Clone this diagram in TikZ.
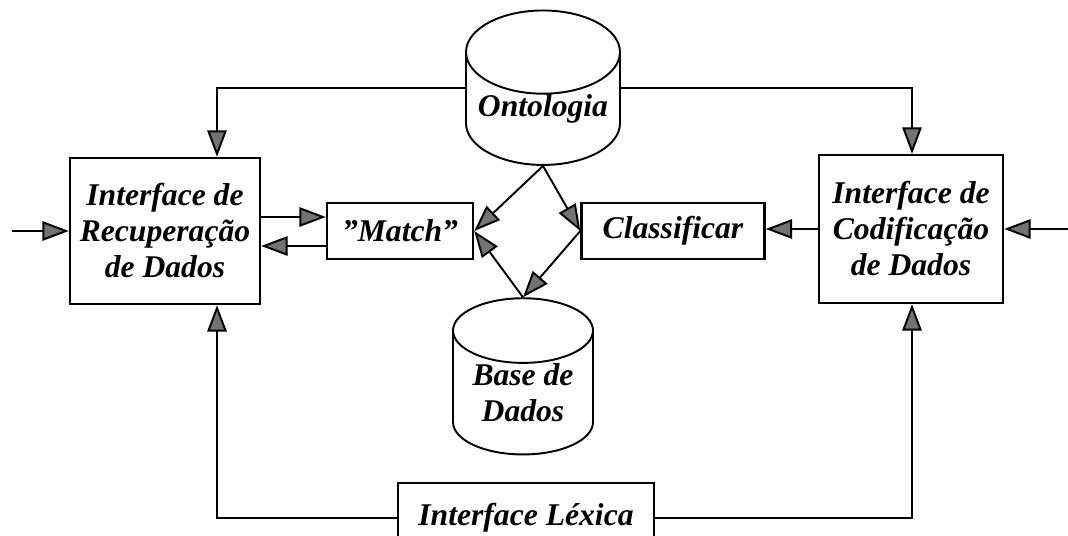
\documentclass[tikz,border=0pt]{standalone}
\usepackage{fontspec}
\setmainfont{Liberation Serif}
\usetikzlibrary{shapes.geometric,arrows.meta}

\begin{document}
\begin{tikzpicture}[x=0.02cm,y=-0.02cm,line width=1.1pt,
  font=\fontsize{18}{20.5}\selectfont\bfseries\itshape,
  box/.style={draw,line width=1.4pt,rectangle,align=center,inner sep=0pt},
  db/.style={draw,cylinder,shape border rotate=90,aspect=0.64,align=center,inner sep=0pt},
  >={Triangle[length=15pt,width=11pt,fill=black!55]}]
\clip (0,0) rectangle (1068,536);
% storage
\node (onto) [db,minimum width=3.08cm,minimum height=3.0cm] at (543,109) {Ontologia};
\node (base) [db,minimum width=2.8cm,minimum height=2.65cm] at (523,393) {Base de\\Dados};
% boxes
\node (rec) [box,minimum width=3.8cm,minimum height=2.92cm] at (165,231)
  {Interface de\\Recupera\c{c}\~ao\\de Dados};
\node (cod) [box,minimum width=3.68cm,minimum height=2.96cm] at (911,229)
  {Interface de\\Codifica\c{c}\~ao\\de Dados};
\node (match) [box,minimum width=2.92cm,minimum height=1.12cm] at (400,231) {"Match"};
\node (cls) [box,minimum width=3.66cm,minimum height=1.12cm] at (673,231) {Classificar};
\node (lex) [box,minimum width=5.12cm,minimum height=1.4cm] at (526,518) {Interface L\'exica};
\coordinate (lx) at (217,88);
\coordinate (rx) at (912,88);
\coordinate (inL) at (12,231);
\coordinate (inR) at (1068,229);
\path ([yshift=0.28cm]match.west) coordinate (m1)
      ([yshift=-0.3cm]match.west) coordinate (m2);
% connectors
\draw[->] (onto.west |- lx) -- (lx) -- (lx |- rec.north);
\draw[->] (onto.east |- rx) -- (rx) -- (rx |- cod.north);
\draw[->] (lex.west) -| (lx |- rec.south);
\draw[->] (lex.east) -| (rx |- cod.south);
\draw[->] (inL) -- (rec.west);
\draw[->] (inR) -- (cod.east);
\draw[->] (m1 -| rec.east) -- (m1);
\draw[->] (m2) -- (m2 -| rec.east);
\draw[->] (cod.west) -- (cod.west -| cls.east);
\draw[->] (onto.south) -- (match.east);
\draw[->] (onto.south) -- (cls.west);
\draw[->] (cls.west) -- (base.north);
\draw[->] (base.north) -- (match.east);
\end{tikzpicture}
\end{document}
